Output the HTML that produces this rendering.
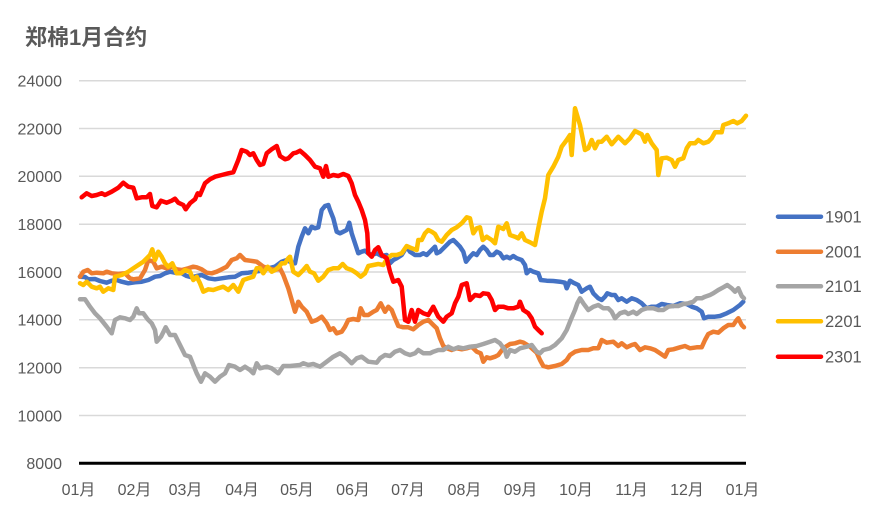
<!DOCTYPE html>
<html><head><meta charset="utf-8"><style>
html,body{margin:0;padding:0;background:#fff;}
svg{display:block;}
text{font-family:"Liberation Sans","Noto Sans CJK SC",sans-serif;fill:#595959;}
</style></head><body>
<svg width="883" height="515" viewBox="0 0 883 515" xmlns="http://www.w3.org/2000/svg">
<rect width="883" height="515" fill="#fff"/>
<text x="25" y="45" font-size="22" font-weight="bold">郑棉1月合约</text>
<g stroke="#D9D9D9" stroke-width="1.5">
<line x1="79" y1="80.7" x2="746" y2="80.7"/>
<line x1="79" y1="128.5" x2="746" y2="128.5"/>
<line x1="79" y1="176.3" x2="746" y2="176.3"/>
<line x1="79" y1="224.2" x2="746" y2="224.2"/>
<line x1="79" y1="272" x2="746" y2="272"/>
<line x1="79" y1="319.8" x2="746" y2="319.8"/>
<line x1="79" y1="367.7" x2="746" y2="367.7"/>
<line x1="79" y1="415.5" x2="746" y2="415.5"/>
</g>
<g font-size="16" text-anchor="end">
<text x="62" y="86.5">24000</text>
<text x="62" y="134.3">22000</text>
<text x="62" y="182.1">20000</text>
<text x="62" y="230">18000</text>
<text x="62" y="277.8">16000</text>
<text x="62" y="325.6">14000</text>
<text x="62" y="373.5">12000</text>
<text x="62" y="421.3">10000</text>
<text x="62" y="469.1">8000</text>
</g>
<g font-size="16" text-anchor="middle">
<text x="78.5" y="495">01月</text>
<text x="134.5" y="495">02月</text>
<text x="185.5" y="495">03月</text>
<text x="242" y="495">04月</text>
<text x="297" y="495">05月</text>
<text x="353" y="495">06月</text>
<text x="408" y="495">07月</text>
<text x="464.5" y="495">08月</text>
<text x="520.5" y="495">09月</text>
<text x="576" y="495">10月</text>
<text x="631.5" y="495">11月</text>
<text x="687" y="495">12月</text>
<text x="742.5" y="495">01月</text>
</g>
<g fill="none" stroke-width="4.5" stroke-linejoin="round" stroke-linecap="round">
<polyline stroke="#4472C4" points="80,276.7 85,277 88.3,279.3 95,279 100,281 106.7,282.7 111.7,280.7 116.7,280 121.7,281.7 128.3,283.3 135,282.3 141.7,281.7 148.3,280 155,276.7 160,276 165,273.3 170,271.7 175,272.7 181.7,273.3 186.7,276 191.7,277.3 196.7,276 201.7,275 208.3,278.3 215,279.3 221.7,278.3 228.3,277.3 235,276.7 241.7,273.3 248.3,272.7 255,271.7 261.7,270.7 268.3,268.3 275,266.7 281.7,261.7 286.7,260 290,261.7 293.3,263.3 295,263.3 298.3,246.7 301.7,236.7 305,228.3 308.3,233.3 311.7,226.7 315,228.3 318.3,227.3 321.7,210 325,206 328.3,205 330,210 333.3,218.3 336.7,231.7 340,233.3 343.3,231.7 346.7,230 349.3,222.7 351.7,233.3 355,243.3 358.3,253.3 361.7,251.7 365,250.7 368.3,253.3 371.7,255 376.7,253.3 381.7,256 386.7,255 390,263.3 393.3,260 396.7,258.3 401.7,255 406.7,246.7 410,251.7 415,255 420,255 423.3,253.3 426.7,255 430,251.7 435,246.7 436.7,253.3 440,251.7 445,246.7 450,241.7 453.3,240 456.7,243.3 460,246.7 463.3,251.7 466,261.7 470,256.7 473.3,253.3 476.7,255 480,250 483.3,246.7 486.7,250 490,255 493.3,255 496.7,251.7 500,253.3 503.3,258.3 506.7,256.7 510,258.3 513.3,256 516.7,258.3 521.7,260 525,265 526.7,273.3 530,270 533.3,271.7 538.3,273.3 540.7,280 546.7,280.7 553.3,281 560,281.7 565,282.7 566.7,288.3 570,280.7 573.3,282.7 578.3,285 581.7,291.7 586.7,288.3 590,286.7 593.3,293.3 598.3,298.3 601.7,300 605,296.7 607.3,293.3 611.7,295 615,295 618.3,300 621.7,298.3 626.7,301.7 631.7,298.3 636.7,300 641.7,303.3 646.7,308.3 651.7,306.7 656.7,306.7 661.7,304 666.7,305 673.3,306 680,303.3 686.7,304 691.7,306.7 696.7,308.3 701.7,311.7 704,318.3 708.3,316.7 715,316.7 720,316 726.7,313.3 733.3,310 740,305 743.3,301.7"/>
<polyline stroke="#ED7D31" points="80,276.7 83.3,271.7 87.7,270 91.7,273.3 96.7,272.7 103.3,273.3 106.7,271.7 111.7,273.3 118.3,274 125,273.3 130,278.3 133.3,279.3 140,278.3 145,270 148.3,260 153.3,261.7 156.7,268.3 161.7,266.7 166.7,268.3 171.7,266.7 176.7,269.3 181.7,270 188.3,268.3 193.3,266.7 196.7,267.3 201.7,269.3 206.7,272.7 211.7,273.3 216.7,271.7 221.7,269.3 226.7,266.7 231.7,260 236.7,258.3 240,255 245,260 250,260.7 256.7,261.7 263.3,266.7 268.3,268.3 275,270 280,268.3 283.3,275 288.3,288.3 291.7,300 295,311.7 298.3,301.7 301.7,306.7 306.7,311.7 311.7,321.7 316.7,320 321.7,316.7 326.7,323.3 330,330 333.3,328.3 336.7,333.3 341.7,331.7 345,326.7 348.3,320 353.3,319 358.3,320 360.7,308.3 364,315 368.3,315 373.3,311.7 376.7,310 380.7,303.3 385,311.7 388.3,306.7 391.7,310 395,318.3 398.3,326 403.3,327.3 408.3,327.3 413.3,329.3 418.3,325 423.3,321.7 428.3,320 433.3,325 436.7,328.3 440,338.3 443.3,346 446.7,348.3 451.7,350 456.7,348.3 461.7,349.3 466.7,348.3 471.7,346.7 476.7,351.7 480.7,353.3 483.3,361.7 486.7,357.3 490,358.3 495,356.7 498.3,355 503.3,348.3 510,344 515,343.3 520,341.7 523.3,342.5 530,346.7 536.7,352.7 540,360 543.3,366 548.3,367.3 555,366 561.7,364 566.7,360 570,355 575,351.7 581.7,350 588.3,350 593.3,348.3 598.3,348.3 601.7,340 606.7,342.7 613.3,341.7 618.3,346 621.7,343.3 626.7,347.3 631.7,345 635,344 640,350 645,347.3 650,348.3 655,350 660,353.3 665,356.7 668.3,350 673.3,349.3 680,347.3 685,346 690,348.3 696.7,347.3 701.7,347.3 705,340 708.3,334 713.3,331.7 718.3,332.7 723.3,328.3 728.3,325 733.3,325 736.7,320 738.3,318.3 741.7,325 744,327.3"/>
<polyline stroke="#A5A5A5" points="80,299.3 85,299.3 90,306.7 95,313.3 100,318.3 106.7,326.7 111.7,333.3 115,320 120,317.3 125,318.3 130,320 133.3,316.7 136.7,308.3 139,313.3 143.3,313.3 147.7,319.3 151.7,323.3 155,330 156.7,341.7 161,336.7 165.7,327.3 170,335 175,335 180,345 185,355 190,356.7 193.3,365 196.7,373.3 201,381.7 205,373.3 210,376.7 215,381.7 220,376.7 225,373.3 229,365 235,366.7 240,370 245,366.7 250,370 253.3,373.3 256.7,363.3 260,368.3 266.7,366.7 271.7,368.3 278.3,373.3 283.3,366 290,366 295,365.5 300,365 303.3,363.3 308.3,365 313.3,364 320,366.7 326.7,361.7 333.3,356.7 340,353.3 345,356.7 351.7,363.3 356.7,358.3 361.7,356.7 368.3,361.7 376.7,362.7 380,358.3 385,355 390,356 395,351.7 400,350 405,353.3 410,355 415,353.3 418.3,350 423.3,353.3 430,353.3 433.3,351.7 438.3,350 443.3,350 448.3,346.7 453.3,349.3 458.3,347.3 463.3,348.3 470,346.7 476.7,346 483.3,344 490,341.7 495,340 500,343.3 505,350 506.7,356.7 510,350 515,351.7 520,348.3 526.7,346.7 531.7,345 536.7,351.7 540,353.3 543.3,350 550,348.3 555,345 561.7,338.3 566.7,330 570.7,320 575,310 577.3,303.3 580,298.3 583.3,303.3 588.3,310 593.3,306.7 598.3,305 603.3,308.3 608.3,308.3 611.7,311.7 615,318.3 620,313.3 625,311.7 628.3,314 633.3,311.7 636.7,314 641.7,310 646.7,308.3 653.3,308.3 658.3,310 663.3,310 668.3,306.7 673.3,306 678.3,306 683.3,304 688.3,303.3 693.3,301.7 696.7,298.3 701.7,298.3 705,296.7 710,295 713.3,293.3 718.3,290 723.3,287.3 727.3,285 731.7,288.3 735,291.7 738.3,288.3 741.7,296 744,298.3"/>
<polyline stroke="#FFC000" points="80,283.3 83.3,285 86.7,281.7 91.7,286.7 96.7,288.3 100,286.7 103.3,291.7 108.3,288.3 113.3,290 115,276.7 121.7,275 128.3,271.7 133.3,268.3 138.3,265 143.3,261.7 146.7,258.3 150,255 152.3,249.3 155,260 158.3,251.7 161.7,256.7 165,263.3 168.3,266.7 172.3,263.3 176.7,273.3 181,273.3 185,270 190,271.7 193.3,280 196.7,276.7 200,283.3 203.3,291.7 208.3,289.3 213.3,290 218.3,288.3 223.3,286.7 228.3,290 233.3,285 238.3,291.7 243.3,280 248.3,278.3 253.3,276.7 256.7,268.3 260,268.3 263.3,273.3 267.7,266.7 271.7,271.7 275,270 279,266.7 281.7,263.3 285,263.3 288.3,258.3 290,256.7 293.3,271.7 298.3,275 303.3,270 306.7,266 310,271.7 314,273.3 318.3,280.7 323.3,276.7 328.3,270 333.3,268.3 338.3,268.3 342.7,264 346.7,268.3 351.7,270 356.7,273.3 360.7,276.7 365,273.3 368.3,266 373.3,265 378.3,264 383.3,265 386.7,259.3 391.7,255 396.7,255 401.7,253.3 406.7,246 411.7,248.3 416.7,250 418.3,240 421.7,240 425,233.3 428.3,230 431.7,231.7 435,234 438.3,240 441.7,241.7 446.7,235 451.7,230 456.7,227.3 461.7,223.3 466.7,217.3 470,218.3 473.3,233.3 476.7,228.3 480,227.3 482.7,240 486.7,236.7 491.7,240 495,243.3 498.3,226.7 503.3,229 506.7,223.3 510,235 515,236.7 518.3,238.3 521.7,233.3 525,240 530,242.3 535,245 538.3,228.3 541.7,211.7 545,198.3 548.3,175 553.3,166.7 558.3,156.7 561.7,146.7 566.7,140 570,135 571.7,155 575,108.3 580,125 585,150 588.3,148.3 591.7,140 595,148.3 598.3,141.7 601.7,141.7 606.7,136.7 611.7,144.3 618.3,136.7 625,143.3 630,138.3 635,131 641.7,134.3 645,141.7 647.3,135 651.7,143.3 656.7,150 658.3,175 661.7,158.3 666.7,157.7 671.7,160 675,166.7 678.3,160 683.3,158.3 686.7,148.3 690,143.3 695,143.3 698.3,140 703.3,143.3 708.3,141.7 711.7,138.3 715,132.3 721.7,132.3 723.3,125 728.3,123.3 733.3,121 737.3,123.3 741.7,121 746,115.7"/>
<polyline stroke="#FF0000" points="81.7,197.3 86.7,193.3 91.7,196 96.7,195 101.7,193.3 105,195 111.7,191.7 118.3,187.7 123.3,182.7 128.3,186.7 133.3,187.7 136.7,198.3 141.7,197.3 146.7,197.3 150,194 152.3,206 156.7,207.3 161,200.7 166.7,202.7 171.7,200.7 175,198.7 178.3,202.7 183.3,205 185.7,209.3 190,203.3 195,199.3 197.7,193.3 200,195 205,183.3 210,179.3 215,176.7 221.7,175 228.3,173.3 233.3,172.3 238.3,160 241.7,150 246.7,151.7 250,155 253.3,153.3 256.7,160 260,165 263.3,164 266.7,153.3 271.7,149.3 276.7,146 280,156 285,159.3 288.3,158.3 293.3,153.3 296,152.7 300,150.7 305,155 310,160 315,166.7 320,168.3 323.3,176.7 326,166 328.3,176.7 333.3,175 338.3,176 343.3,174 348.3,176 351.7,183.3 355,195 358.3,201.7 361.7,210 365,220 367.3,233.3 368.3,253.3 371.7,256.7 375,250 378.3,247.3 381.7,255 386.7,258.3 390,271.7 393.3,281.7 398.3,280 401.7,286.7 405,320 408.3,321.7 411.7,310 415,321.7 418.3,310 423.3,313.3 428.3,315 433.3,306.7 438.3,316.7 443.3,321.7 446.7,316.7 451.7,313.3 455,303.3 458.3,296.7 461.7,285 466.7,283.3 470,300 475,295 480,296 483.3,293.3 488.3,294 491.7,300 495,310 498.3,306.7 503.3,306.7 508.3,308.3 513.3,308.3 518.3,306.7 520,301.7 523.3,310 528.3,313.3 531.7,318.3 535,326.7 538.3,330 541.7,333.3"/>
</g>
<line x1="79" y1="463.3" x2="746" y2="463.3" stroke="#000" stroke-width="3"/>
<g stroke-width="4.5" stroke-linecap="round">
<line x1="778" y1="216.7" x2="821" y2="216.7" stroke="#4472C4"/>
<line x1="778" y1="251.7" x2="821" y2="251.7" stroke="#ED7D31"/>
<line x1="778" y1="286.3" x2="821" y2="286.3" stroke="#A5A5A5"/>
<line x1="778" y1="321.3" x2="821" y2="321.3" stroke="#FFC000"/>
<line x1="778" y1="356.7" x2="821" y2="356.7" stroke="#FF0000"/>
</g>
<g font-size="16.5">
<text x="825" y="222.5">1901</text>
<text x="825" y="257.5">2001</text>
<text x="825" y="292">2101</text>
<text x="825" y="327">2201</text>
<text x="825" y="362.5">2301</text>
</g>
</svg>
</body></html>
